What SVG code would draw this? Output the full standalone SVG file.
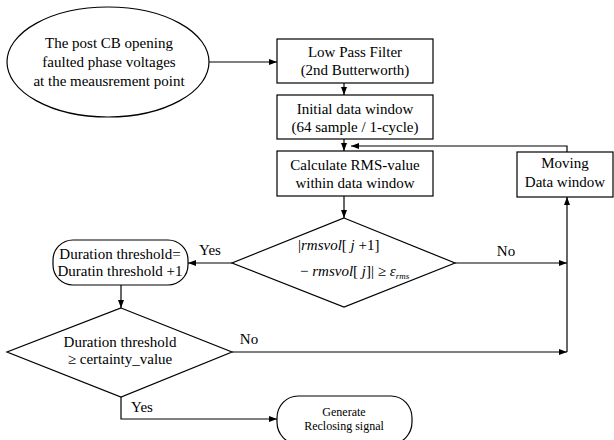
<svg xmlns="http://www.w3.org/2000/svg" width="614" height="440" viewBox="0 0 614 440">
<defs>
<marker id="arr" markerUnits="userSpaceOnUse" markerWidth="9" markerHeight="7" refX="8" refY="3" orient="auto">
<path d="M0,0 L8,3 L0,6 z" fill="#000"/>
</marker>
<style>
.s{fill:#fff;stroke:#000;stroke-width:1.2}
.t{font-family:"Liberation Serif","Times New Roman",serif;font-size:15px;fill:#000;text-anchor:middle}
.sm{font-size:12px}
.c{fill:none;stroke:#000;stroke-width:1.2;marker-end:url(#arr)}
.l{fill:none;stroke:#000;stroke-width:1.2}
.i{font-style:italic}
</style>
</defs>
<rect width="614" height="440" fill="#fff"/>
<g id="connectors">
<path class="c" d="M209,62 H277"/>
<path class="c" d="M344,83 V95"/>
<path class="c" d="M344,139 V151"/>
<path class="c" d="M567,152 V146 H351"/>
<path class="c" d="M344,196 V218"/>
<path class="c" d="M455,263 H567"/>
<path class="c" d="M232,263 H188"/>
<path class="c" d="M121,285 V308"/>
<path class="c" d="M232,352 H567"/>
<path class="c" d="M567,352 V197"/>
<path class="c" d="M121,397 V419 H277"/>
<text class="t" x="210" y="255">Yes</text>
<text class="t" x="506" y="256">No</text>
<text class="t" x="249" y="344">No</text>
<text class="t" x="142" y="412">Yes</text>
</g>
<g id="start">
<ellipse class="s" cx="108" cy="62" rx="101" ry="55"/>
<text class="t" x="109" y="48">The post CB opening</text>
<text class="t" x="109" y="67">faulted phase voltages</text>
<text class="t" x="109" y="86">at the meausrement point</text>
</g>
<g id="lpf">
<rect class="s" x="277" y="39" width="156" height="44"/>
<text class="t" x="355" y="57">Low Pass Filter</text>
<text class="t" x="355" y="75">(2nd Butterworth)</text>
</g>
<g id="init">
<rect class="s" x="277" y="95" width="156" height="44"/>
<text class="t" x="355" y="114">Initial data window</text>
<text class="t" x="355" y="132">(64 sample / 1-cycle)</text>
</g>
<g id="calc">
<rect class="s" x="277" y="151" width="156" height="45"/>
<text class="t" x="355" y="170">Calculate RMS-value</text>
<text class="t" x="355" y="188">within data window</text>
</g>
<g id="moving">
<rect class="s" x="517" y="152" width="96" height="45"/>
<text class="t" x="565" y="168">Moving</text>
<text class="t" x="565" y="187">Data window</text>
</g>
<g id="check">
<polygon class="s" points="344,218 455,263 344,307 232,263"/>
<text class="t" x="298" y="250" style="text-anchor:start">|<tspan class="i">rmsvol</tspan>[ <tspan class="i">j</tspan> +1]</text>
<text class="t" x="300" y="276" style="text-anchor:start">− <tspan class="i">rmsvol</tspan>[ <tspan class="i">j</tspan>]| ≥ <tspan class="i">ε</tspan><tspan class="i" font-size="9" dy="3">rms</tspan></text>
</g>
<g id="increment">
<rect class="s" x="53" y="240" width="135" height="45" rx="20" ry="20"/>
<text class="t" x="120" y="259">Duration threshold=</text>
<text class="t" x="120" y="276">Duratin threshold +1</text>
</g>
<g id="certainty">
<polygon class="s" points="121,308 232,352 121,397 7,352"/>
<text class="t" x="120" y="347">Duration threshold</text>
<text class="t" x="120" y="364">≥ certainty_value</text>
</g>
<g id="reclose">
<rect class="s" x="277" y="396" width="135" height="48" rx="21" ry="22"/>
<text class="t sm" x="344" y="416">Generate</text>
<text class="t sm" x="344" y="430">Reclosing signal</text>
</g>
</svg>
